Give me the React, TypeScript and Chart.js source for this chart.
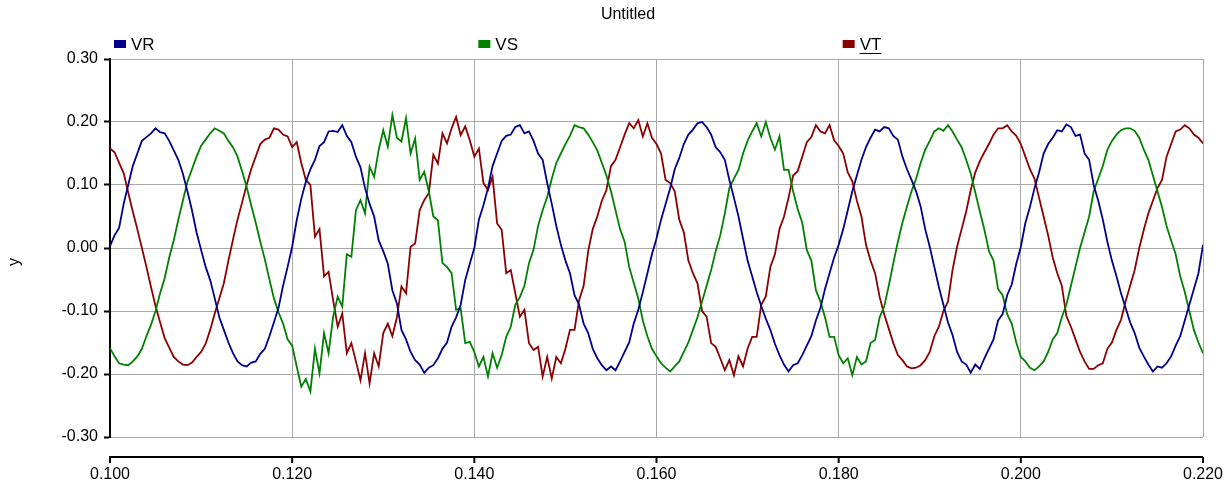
import React, { useEffect, useRef } from "react";
import { Chart, registerables } from "chart.js";

Chart.register(...registerables);

const TITLE = "Untitled";
const Y_TITLE = "y";
const SERIES_NAMES = ["VR", "VS", "VT"];
const SERIES_COLORS = ["#00008b", "#008000", "#8b0000"];
const X_TICKS = [0.1, 0.12, 0.14, 0.16, 0.18, 0.2, 0.22];
const Y_TICKS = [-0.3, -0.2, -0.1, 0, 0.1, 0.2, 0.3];

// sample times: 0.100 s to 0.220 s every 0.5 ms
const T_START = 0.1;
const T_STEP = 0.0005;

const VR = [
  0.003, 0.020, 0.032, 0.070, 0.100, 0.130, 0.150, 0.170, 0.176, 0.182,
  0.190, 0.184, 0.182, 0.170, 0.155, 0.140, 0.118, 0.090, 0.060, 0.025,
  -0.003, -0.030, -0.051, -0.080, -0.110, -0.130, -0.150, -0.167, -0.180, -0.186,
  -0.188, -0.182, -0.180, -0.168, -0.160, -0.140, -0.118, -0.095, -0.060, -0.030,
  0.002, 0.044, 0.078, 0.105, 0.125, 0.140, 0.162, 0.168, 0.185, 0.186,
  0.184, 0.195, 0.178, 0.168, 0.145, 0.128, 0.095, 0.070, 0.050, 0.012,
  -0.005, -0.025, -0.067, -0.088, -0.130, -0.145, -0.165, -0.178, -0.185, -0.198,
  -0.190, -0.186, -0.175, -0.160, -0.150, -0.125, -0.110, -0.090, -0.051, -0.025,
  0.000, 0.045, 0.068, 0.095, 0.130, 0.150, 0.170, 0.178, 0.180, 0.192,
  0.195, 0.182, 0.185, 0.170, 0.150, 0.140, 0.103, 0.070, 0.035, 0.005,
  -0.020, -0.040, -0.075, -0.090, -0.120, -0.135, -0.160, -0.175, -0.186, -0.194,
  -0.188, -0.194, -0.180, -0.165, -0.150, -0.120, -0.098, -0.070, -0.040, -0.010,
  0.015, 0.045, 0.070, 0.095, 0.125, 0.143, 0.165, 0.180, 0.188, 0.198,
  0.200, 0.192, 0.180, 0.160, 0.152, 0.140, 0.108, 0.080, 0.050, 0.015,
  -0.020, -0.045, -0.070, -0.092, -0.112, -0.130, -0.152, -0.170, -0.185, -0.196,
  -0.186, -0.183, -0.170, -0.155, -0.140, -0.115, -0.095, -0.065, -0.040, -0.015,
  0.005, 0.030, 0.060, 0.090, 0.115, 0.140, 0.160, 0.175, 0.188, 0.185,
  0.192, 0.190, 0.178, 0.172, 0.145, 0.125, 0.108, 0.090, 0.066, 0.030,
  0.002, -0.030, -0.062, -0.090, -0.118, -0.138, -0.165, -0.180, -0.185, -0.198,
  -0.185, -0.192, -0.175, -0.160, -0.145, -0.115, -0.105, -0.075, -0.058, -0.025,
  0.002, 0.040, 0.065, 0.095, 0.120, 0.150, 0.165, 0.175, 0.187, 0.185,
  0.196, 0.192, 0.178, 0.180, 0.150, 0.140, 0.100, 0.075, 0.045, 0.010,
  -0.020, -0.045, -0.072, -0.095, -0.118, -0.135, -0.158, -0.172, -0.185, -0.196,
  -0.188, -0.190, -0.183, -0.172, -0.155, -0.140, -0.115, -0.090, -0.065, -0.040,
  0.005,
];

const VS = [
  -0.159, -0.172, -0.183, -0.185, -0.186, -0.180, -0.172, -0.160, -0.140, -0.122,
  -0.100, -0.072, -0.048, -0.015, 0.012, 0.045, 0.075, 0.105, 0.125, 0.145,
  0.162, 0.172, 0.182, 0.190, 0.186, 0.182, 0.170, 0.160, 0.145, 0.122,
  0.097, 0.068, 0.040, 0.010, -0.018, -0.050, -0.080, -0.102, -0.120, -0.145,
  -0.155, -0.188, -0.220, -0.208, -0.228, -0.160, -0.199, -0.135, -0.167, -0.109,
  -0.077, -0.093, -0.010, -0.014, 0.060, 0.076, 0.055, 0.129, 0.113, 0.156,
  0.187, 0.161, 0.211, 0.175, 0.169, 0.206, 0.150, 0.174, 0.108, 0.121,
  0.090, 0.050, 0.044, -0.024, -0.030, -0.040, -0.098, -0.096, -0.151, -0.149,
  -0.165, -0.188, -0.173, -0.204, -0.167, -0.190, -0.170, -0.141, -0.125, -0.090,
  -0.078, -0.060, -0.024, -0.003, 0.035, 0.060, 0.081, 0.110, 0.135, 0.150,
  0.165, 0.178, 0.195, 0.192, 0.190, 0.180, 0.168, 0.155, 0.135, 0.115,
  0.090, 0.060, 0.030, 0.010, -0.030, -0.055, -0.080, -0.115, -0.140, -0.160,
  -0.172, -0.183, -0.190, -0.196, -0.188, -0.180, -0.165, -0.150, -0.130, -0.110,
  -0.085, -0.060, -0.035, -0.005, 0.020, 0.055, 0.095, 0.110, 0.124, 0.150,
  0.170, 0.185, 0.198, 0.177, 0.200, 0.175, 0.156, 0.177, 0.124, 0.124,
  0.090, 0.062, 0.040, -0.003, -0.020, -0.067, -0.085, -0.110, -0.141, -0.141,
  -0.170, -0.183, -0.175, -0.202, -0.173, -0.185, -0.180, -0.151, -0.146, -0.110,
  -0.093, -0.060, -0.024, 0.010, 0.040, 0.066, 0.090, 0.110, 0.135, 0.156,
  0.170, 0.185, 0.190, 0.186, 0.195, 0.185, 0.172, 0.160, 0.140, 0.118,
  0.088, 0.058, 0.029, -0.005, -0.020, -0.065, -0.075, -0.105, -0.120, -0.150,
  -0.173, -0.180, -0.190, -0.194, -0.188, -0.180, -0.165, -0.145, -0.135, -0.110,
  -0.090, -0.060, -0.030, 0.000, 0.025, 0.050, 0.090, 0.110, 0.130, 0.156,
  0.170, 0.180, 0.187, 0.190, 0.190, 0.186, 0.175, 0.156, 0.140, 0.115,
  0.090, 0.065, 0.035, 0.012, -0.010, -0.045, -0.070, -0.100, -0.130, -0.150,
  -0.167,
];

const VT = [
  0.158, 0.152, 0.135, 0.119, 0.088, 0.058, 0.030, 0.000, -0.030, -0.062,
  -0.092, -0.118, -0.143, -0.158, -0.173, -0.180, -0.185, -0.186, -0.182, -0.173,
  -0.165, -0.152, -0.130, -0.104, -0.080, -0.056, -0.020, 0.013, 0.045, 0.072,
  0.100, 0.125, 0.145, 0.165, 0.172, 0.175, 0.190, 0.188, 0.180, 0.177,
  0.160, 0.168, 0.135, 0.108, 0.100, 0.018, 0.030, -0.045, -0.038, -0.083,
  -0.125, -0.104, -0.167, -0.151, -0.180, -0.210, -0.167, -0.215, -0.167, -0.188,
  -0.135, -0.120, -0.140, -0.110, -0.061, -0.072, 0.002, 0.007, 0.060, 0.076,
  0.087, 0.148, 0.134, 0.182, 0.166, 0.190, 0.208, 0.179, 0.193, 0.171,
  0.145, 0.158, 0.103, 0.092, 0.113, 0.039, 0.029, -0.040, -0.035, -0.072,
  -0.109, -0.098, -0.151, -0.162, -0.157, -0.204, -0.173, -0.207, -0.173, -0.183,
  -0.160, -0.130, -0.130, -0.083, -0.060, -0.005, 0.030, 0.050, 0.075, 0.092,
  0.130, 0.140, 0.160, 0.180, 0.198, 0.190, 0.203, 0.177, 0.198, 0.175,
  0.165, 0.150, 0.108, 0.103, 0.090, 0.045, 0.025, -0.020, -0.040, -0.056,
  -0.100, -0.109, -0.151, -0.157, -0.175, -0.194, -0.178, -0.202, -0.172, -0.188,
  -0.160, -0.141, -0.141, -0.090, -0.077, -0.030, -0.010, 0.030, 0.050, 0.080,
  0.115, 0.122, 0.145, 0.168, 0.176, 0.195, 0.185, 0.182, 0.195, 0.171,
  0.162, 0.150, 0.120, 0.106, 0.075, 0.050, 0.005, -0.020, -0.040, -0.078,
  -0.105, -0.128, -0.151, -0.170, -0.178, -0.188, -0.191, -0.190, -0.186, -0.178,
  -0.165, -0.140, -0.125, -0.100, -0.085, -0.035, 0.002, 0.030, 0.058, 0.092,
  0.120, 0.138, 0.152, 0.165, 0.180, 0.190, 0.190, 0.195, 0.185, 0.178,
  0.165, 0.145, 0.125, 0.110, 0.080, 0.050, 0.020, -0.015, -0.040, -0.060,
  -0.108, -0.125, -0.145, -0.165, -0.180, -0.192, -0.192, -0.186, -0.183, -0.160,
  -0.150, -0.130, -0.114, -0.085, -0.060, -0.035, 0.000, 0.029, 0.055, 0.075,
  0.095, 0.108, 0.145, 0.165, 0.185, 0.188, 0.195, 0.190, 0.180, 0.175,
  0.166,
];

const SERIES = [VR, VS, VT];
const FONT_FAMILY = '"Liberation Sans", Arial, Helvetica, sans-serif';

const overlayPlugin = {
  id: "overlay",
  afterDraw(chart: any) {
    const ctx = chart.ctx as CanvasRenderingContext2D;
    const a = chart.chartArea;
    const xs = chart.scales.x;
    ctx.save();
    ctx.fillStyle = "#000";
    // title
    ctx.font = `16px ${FONT_FAMILY}`;
    ctx.textAlign = "center";
    ctx.textBaseline = "middle";
    ctx.fillText(TITLE, 628, 15);

    // legend, three columns across the plot width
    const colW = (a.right - a.left) / 3;
    ctx.font = `17px ${FONT_FAMILY}`;
    ctx.textAlign = "left";
    SERIES_NAMES.forEach((name, i) => {
      const bx = a.left + 4 + i * colW;
      ctx.fillStyle = SERIES_COLORS[i];
      ctx.fillRect(bx, 40, 12, 8);
      ctx.fillStyle = "#000";
      const tx = bx + 17;
      ctx.fillText(name, tx, 45);
      if (i === 2) {
        const w = ctx.measureText(name).width;
        ctx.fillRect(tx, 53, w, 1);
      }
    });

    // detached x axis line with ticks
    const yAxis = a.bottom + 20;
    ctx.strokeStyle = "#000";
    ctx.lineWidth = 2;
    ctx.beginPath();
    ctx.moveTo(a.left - 1, yAxis);
    ctx.lineTo(a.right, yAxis);
    X_TICKS.forEach((v) => {
      const px = xs.getPixelForValue(v);
      ctx.moveTo(px, yAxis);
      ctx.lineTo(px, yAxis + 6);
    });
    ctx.stroke();

    // y axis title
    ctx.font = `16px ${FONT_FAMILY}`;
    ctx.textAlign = "center";
    ctx.textBaseline = "middle";
    ctx.translate(15, 262);
    ctx.rotate(-Math.PI / 2);
    ctx.fillText(Y_TITLE, 0, 0);
    ctx.restore();
  },
};

export default function App() {
  const ref = useRef<HTMLCanvasElement | null>(null);
  useEffect(() => {
    document.body.style.margin = "0";
    const canvas = ref.current;
    if (!canvas) return;
    const datasets = SERIES.map((vals, si) => ({
      label: SERIES_NAMES[si],
      data: vals.map((v, i) => ({ x: T_START + i * T_STEP, y: v })),
      borderColor: SERIES_COLORS[si],
      backgroundColor: SERIES_COLORS[si],
      borderWidth: 1.8,
      pointRadius: 0,
      tension: 0,
      fill: false,
    }));
    const chart = new Chart(canvas, {
      type: "line",
      data: { datasets },
      plugins: [overlayPlugin],
      options: {
        animation: false,
        responsive: false,
        devicePixelRatio: 1,
        layout: { padding: { top: 59, right: 22, left: 0, bottom: 0 } },
        plugins: {
          legend: { display: false },
          title: { display: false },
          tooltip: { enabled: false },
        },
        scales: {
          x: {
            type: "linear",
            min: 0.1,
            max: 0.22,
            afterBuildTicks: (s: any) => {
              s.ticks = X_TICKS.map((v) => ({ value: v }));
            },
            afterFit: (s: any) => {
              s.height = 47;
              s.paddingLeft = 0;
              s.paddingRight = 0;
            },
            ticks: {
              callback: (v: any) => Number(v).toFixed(3),
              color: "#000",
              font: { size: 16, family: FONT_FAMILY },
              padding: 28,
              maxRotation: 0,
              autoSkip: false,
            },
            grid: { color: "#a8a8a8", lineWidth: 1, drawTicks: false },
            border: { display: false },
          },
          y: {
            type: "linear",
            min: -0.3,
            max: 0.3,
            afterBuildTicks: (s: any) => {
              s.ticks = Y_TICKS.map((v) => ({ value: v }));
            },
            afterFit: (s: any) => {
              s.width = 110;
              s.paddingTop = 0;
              s.paddingBottom = 0;
            },
            ticks: {
              callback: (v: any) => Number(v).toFixed(2),
              color: "#000",
              font: { size: 16, family: FONT_FAMILY },
              padding: 6,
              autoSkip: false,
            },
            grid: {
              color: "#a8a8a8",
              lineWidth: 1,
              drawTicks: true,
              tickLength: 6,
              tickColor: "#000",
              tickWidth: 2,
            },
            border: { display: true, color: "#000", width: 2 },
          },
        },
      },
    } as any);
    return () => chart.destroy();
  }, []);
  return (
    <canvas
      ref={ref}
      width={1225}
      height={484}
      style={{ display: "block", width: 1225, height: 484 }}
    />
  );
}
